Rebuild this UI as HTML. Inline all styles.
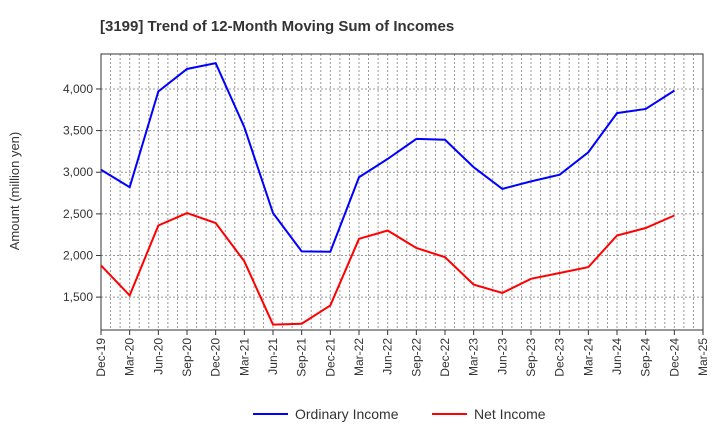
<!DOCTYPE html>
<html><head><meta charset="utf-8"><style>body{margin:0;background:#fff;font-family:"Liberation Sans",sans-serif}</style></head>
<body>
<svg id="c" width="720" height="440" xmlns="http://www.w3.org/2000/svg" font-family="Liberation Sans, sans-serif">
<text x="100" y="31" font-size="15" font-weight="bold" fill="#333">[3199]  Trend of 12-Month Moving Sum of Incomes</text>
<text transform="translate(19,191) rotate(-90)" text-anchor="middle" font-size="13" fill="#333">Amount (million yen)</text>
<g id="grid"></g><g id="axes"></g><g id="series"></g>
<g>
<line x1="253" y1="414" x2="288" y2="414" stroke="#0000ff" stroke-width="2"/>
<text x="295" y="419" font-size="14" fill="#333">Ordinary Income</text>
<line x1="432" y1="414" x2="467" y2="414" stroke="#ff0000" stroke-width="2"/>
<text x="474" y="419" font-size="14" fill="#333">Net Income</text>
</g>
</svg>
<script>
const categories=["Dec-19","Mar-20","Jun-20","Sep-20","Dec-20","Mar-21","Jun-21","Sep-21","Dec-21","Mar-22","Jun-22","Sep-22","Dec-22","Mar-23","Jun-23","Sep-23","Dec-23","Mar-24","Jun-24","Sep-24","Dec-24","Mar-25"];
const ordinaryIncome=[3030,2820,3970,4240,4310,3540,2510,2050,2045,2940,3160,3400,3390,3060,2800,2890,2970,3240,3710,3760,3980];
const netIncome=[1880,1520,2360,2510,2390,1930,1170,1180,1400,2200,2300,2090,1980,1650,1550,1720,1790,1860,2240,2330,2480];
const yTicks=[1500,2000,2500,3000,3500,4000];
const L=101,R=703,T=54,B=330,yMin=1105,yMax=4420;
const NS="http://www.w3.org/2000/svg";
const x=i=>L+(R-L)*i/(categories.length-1);
const y=v=>B-(v-yMin)/(yMax-yMin)*(B-T);
function mk(t,a,p){const e=document.createElementNS(NS,t);for(const k in a)e.setAttribute(k,a[k]);p.appendChild(e);return e;}
const grid=document.getElementById('grid'),axes=document.getElementById('axes'),ser=document.getElementById('series');
for(let m=1;m<(categories.length-1)*3;m++){const xx=L+(R-L)*m/((categories.length-1)*3);
const g=mk('line',{x1:xx,x2:xx,y1:T,y2:B,stroke:'#999','stroke-dasharray':'2,2','stroke-width':1},grid);

}
yTicks.forEach(v=>{const g=mk('line',{x1:L,x2:R,y1:y(v),y2:y(v),stroke:'#999','stroke-dasharray':'2,2','stroke-width':1},grid);


mk('line',{x1:L-5,x2:L,y1:y(v),y2:y(v),stroke:'#333'},axes);
const t=mk('text',{x:L-8,y:y(v)+4,'text-anchor':'end','font-size':12,fill:'#333'},axes);t.textContent=v.toLocaleString('en-US');

});
const fr=mk('rect',{x:L,y:T,width:R-L,height:B-T,fill:'none',stroke:'#333'},axes);


categories.forEach((c,i)=>{mk('line',{x1:x(i),x2:x(i),y1:B,y2:B+5,stroke:'#333'},axes);
const t=mk('text',{transform:`translate(${x(i)+4},${B+8}) rotate(-90)`,'text-anchor':'end','font-size':12,fill:'#333'},axes);t.textContent=c;

});
function line(d,col,name){const p=mk('polyline',{points:d.map((v,i)=>x(i)+','+y(v)).join(' '),fill:'none',stroke:col,'stroke-width':2},ser);

}
line(ordinaryIncome,'#0000ff','ordinary-income-line');
line(netIncome,'#ff0000','net-income-line');
</script>
</body></html>
